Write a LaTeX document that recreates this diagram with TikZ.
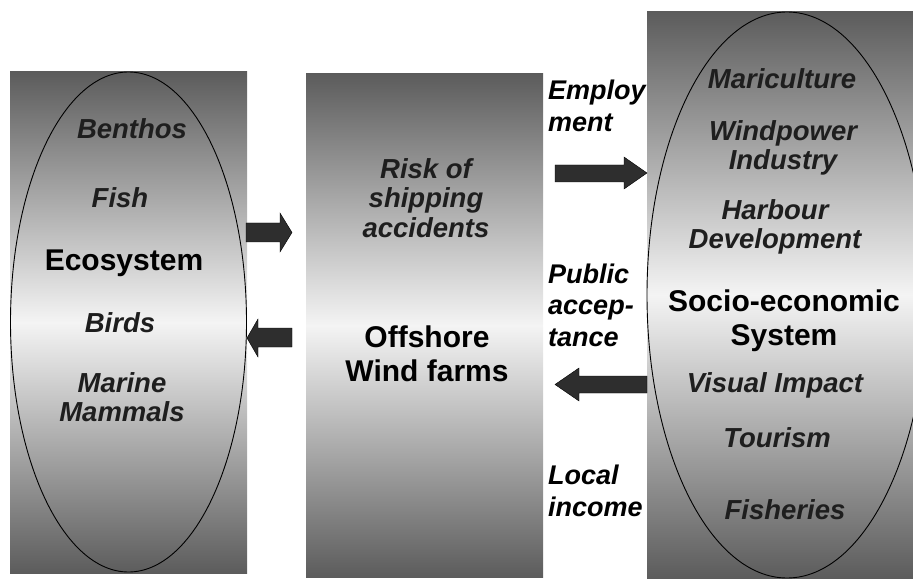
\documentclass[tikz,border=0pt]{standalone}
\usepackage{fontspec}
\setmainfont{Liberation Sans}
\usetikzlibrary{positioning}
\definecolor{boxEnd}{HTML}{5C5C5C}
\definecolor{boxMid}{HTML}{F4F4F4}
\definecolor{arrowFill}{HTML}{2E2E2E}
\definecolor{labelDark}{HTML}{1E1E1E}
\tikzset{
  panel/.style={top color=boxEnd, bottom color=boxEnd, middle color=boxMid, draw=none, inner sep=0pt},
  rim/.style={draw=black, line width=0.9pt},
  item/.style={font=\fontsize{27.5}{29.5}\selectfont\bfseries\itshape, text=labelDark, align=center, inner sep=0pt},
  title/.style={font=\fontsize{30}{34}\selectfont\bfseries, text=black, align=center, inner sep=0pt},
  flow/.style={font=\fontsize{27}{31.5}\selectfont\bfseries\itshape, align=left, inner sep=0pt, anchor=west},
  block/.style={fill=arrowFill, draw=black, line width=0.4pt},
}

\begin{document}
\begin{tikzpicture}[x=1pt, y=-1pt]
  \useasboundingbox (0,0) rectangle (913,588);
  \clip (0,0) rectangle (913,588);
  % three shaded panels
  \node[panel, minimum width=237pt, minimum height=501pt] (eco) at (128.5,322.5) {};
  \node[panel, minimum width=237pt, minimum height=503pt] (owf) at (424.5,325.5) {};
  \node[panel, minimum width=266pt, minimum height=566pt] (soc) at (780,295) {};
  % ellipses
  \draw[rim] (128.5,322) ellipse [x radius=118pt, y radius=250pt];
  \draw[rim] (787,295) ellipse [x radius=140pt, y radius=283pt];
  % Ecosystem
  \node[item] (benthos) at (132,129) {Benthos};
  \node[item] (fish) at (120,198) {Fish};
  \node[title] (ecosys) at (124,263) {Ecosystem};
  \node[item] (birds) at (120,323) {Birds};
  \node[item] (mammals) at (122,397) {Marine\\Mammals};
  % Offshore wind farms
  \node[item] (risk) at (426,198) {Risk of\\shipping\\accidents};
  \node[title] (farms) at (427,354) {Offshore\\Wind farms};
  % flows between
  \node[flow] (employ) at (548,106) {Employ\\ment};
  \node[flow] (accept) at (548,305) {Public\\accep-\\tance};
  \node[flow] (income) at (548,491) {Local\\income};
  % Socio-economic system
  \node[item] (maricult) at (782,79) {Mariculture};
  \node[item] (windind) at (783,148) {Windpower\\Industry};
  \node[item] (harbour) at (775,227) {Harbour\\Development};
  \node[title] (socsys) at (784,321) {Socio-economic\\System};
  \node[item] (visual) at (775,385) {Visual Impact};
  \node[item] (tourism) at (777,438) {Tourism};
  \node[item] (fisher) at (785,510) {Fisheries};
  % block arrows
  \filldraw[block] (246,223) -- (280,223) -- (280,213) -- (292,232.5) -- (280,252) -- (280,242) -- (246,242) -- cycle;
  \filldraw[block] (292,328) -- (258,328) -- (258,319) -- (247,338) -- (258,357) -- (258,347) -- (292,347) -- cycle;
  \filldraw[block] (555,165) -- (624,165) -- (624,157) -- (647,173) -- (624,189) -- (624,182) -- (555,182) -- cycle;
  \filldraw[block] (647,376) -- (579,376) -- (579,368) -- (555,384.5) -- (579,401) -- (579,393) -- (647,393) -- cycle;
\end{tikzpicture}
\end{document}
